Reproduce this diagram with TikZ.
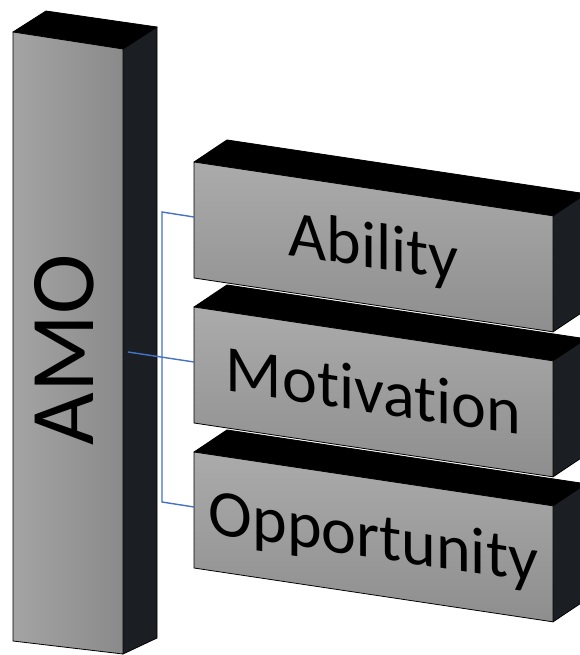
\documentclass[tikz,border=0pt]{standalone}
\usepackage{fontspec}
\setmainfont{Carlito}[Ligatures={NoCommon}]
\begin{document}
\begin{tikzpicture}[x=1pt,y=-1pt,
  edge/.style={draw=black,line width=0.8pt,line join=round},
  topface/.style={edge,fill=black},
  sideface/.style={edge,fill=sidegray},
  link/.style={draw=linkblue,line width=1.4pt},
  slabtext/.style={transform shape,anchor=base,inner sep=0pt,
    font=\fontsize{66}{70}\selectfont},
]
\definecolor{sidegray}{HTML}{1B1F23}
\definecolor{linkblue}{HTML}{4472C4}
\definecolor{faceA}{HTML}{A4A4A4}
\definecolor{faceB}{HTML}{8A8A8A}
\definecolor{slabA}{HTML}{ABABAB}
\definecolor{slabB}{HTML}{8E8E8E}
\useasboundingbox (0,0) rectangle (579,655);

% tall AMO column
\fill[topface] (13,32) -- (46,11) -- (157,27) -- (123,49) -- cycle;
\fill[sideface] (123,49) -- (157,27) -- (157,638) -- (123,654) -- cycle;
\shade[left color=faceA,right color=faceB,draw=black,line width=0.8pt]
  (13,32) -- (123,49) -- (123,654) -- (13,641) -- cycle;
\node[rotate=90,inner sep=0pt,font=\fontsize{91}{95}\selectfont] (amo) at (64,350) {AMO};

% one slab: #1 name, #2 top-left y of the front face, #3 label
\newcommand\drawslab[3]{%
  \begin{scope}[shift={(194,#2)},yslant=-0.15]
    \fill[topface] (0,0) -- (33,-27) -- (392,-27) -- (359,0) -- cycle;
    \fill[sideface] (359,0) -- (392,-27) -- (392,89) -- (359,116) -- cycle;
    \shade[top color=slabA,bottom color=slabB,draw=black,line width=0.8pt]
      (0,0) -- (359,0) -- (359,116) -- (0,116) -- cycle;
    \node[slabtext] (#1) at (179.5,79) {#3};
    \coordinate (#1-tap) at (0,55);
  \end{scope}}

\drawslab{opp}{452}{Opportunity}
\drawslab{mot}{307}{Motivation}
\drawslab{abi}{162}{Ability}

% connectors from the column to the slabs
\coordinate (amo-tap) at (128,352);
\coordinate (bus-top) at (162,212);
\coordinate (bus-bot) at (162,502);
\draw[link] (amo-tap) -- (mot-tap);
\draw[link] (abi-tap) -- (bus-top) -- (bus-bot) -- (opp-tap);
\end{tikzpicture}
\end{document}
